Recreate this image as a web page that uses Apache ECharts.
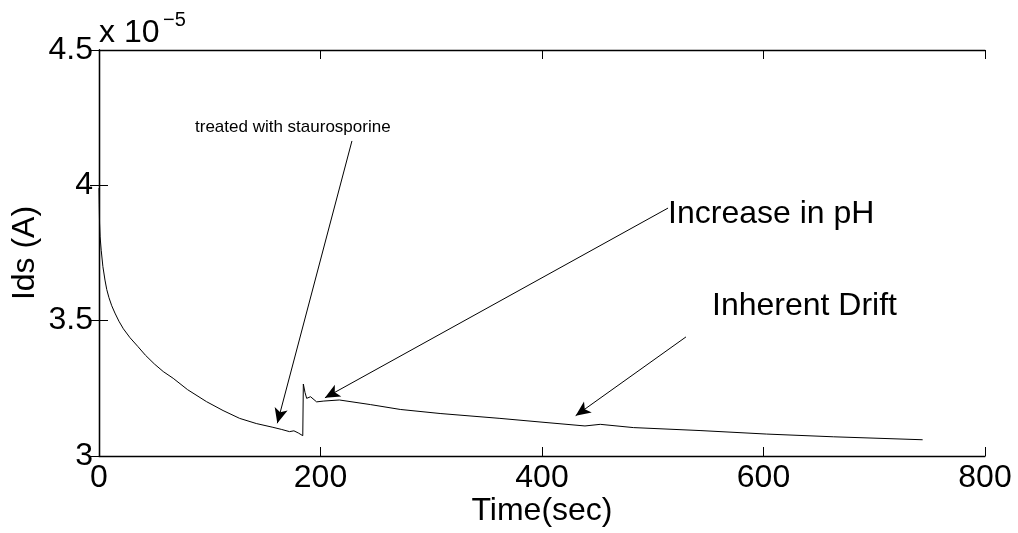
<!DOCTYPE html>
<html><head><meta charset="utf-8">
<script src="https://cdn.jsdelivr.net/npm/echarts@6/dist/echarts.min.js"></script>
<style>html,body{margin:0;padding:0;background:#fff}#c{width:1018px;height:533px}</style>
</head><body><div id="c"></div>
<script>
// Time (s) and Ids (in units of 1e-5 A)
const timeSec = [0, 0.2, 0.5, 1, 2, 3.5, 5.4, 7, 9, 11.5, 14.4, 18, 22, 28, 35, 42, 50, 58, 67, 80, 97, 112, 127, 142, 157, 165, 172, 176, 180, 184, 184.5, 186, 187.5, 191, 196.5, 203, 217, 245, 272, 308, 362, 400, 438.8, 439.5, 452.6, 482.5, 542.7, 602.9, 663, 743.7];
const idsE5   = [3.99, 3.93, 3.86, 3.81, 3.76, 3.70, 3.65, 3.615, 3.585, 3.555, 3.528, 3.498, 3.47, 3.437, 3.405, 3.372, 3.34, 3.312, 3.287, 3.245, 3.201, 3.168, 3.139, 3.12, 3.106, 3.098, 3.09, 3.093, 3.085, 3.075, 3.266, 3.235, 3.213, 3.219, 3.200, 3.203, 3.207, 3.19, 3.172, 3.157, 3.139, 3.125, 3.111, 3.118, 3.117, 3.105, 3.094, 3.081, 3.071, 3.060];
const xTicks = [0, 200, 400, 600, 800];
const yTicks = [3, 3.5, 4, 4.5];
const xTitle = 'Time(sec)';
const yTitle = 'Ids (A)';
const annotationText = ['treated with staurosporine', 'Increase in pH', 'Inherent Drift'];
const annotationAt = [[86.7, 4.215], [513.8, 3.895], [553.5, 3.555]];
const arrowFrom = [[228.4, 4.164], [513.8, 3.916], [530, 3.44]];
const arrowTo   = [[161, 3.121], [204, 3.215], [430.4, 3.149]];

const FONT = '"Liberation Sans", Arial, Helvetica, sans-serif';
const chart = echarts.init(document.getElementById('c'), null, {renderer: 'canvas'});
const axisLine = {show: true, lineStyle: {color: '#000', width: 1.3}};
const tick = {show: true, inside: true, length: 9, lineStyle: {color: '#000', width: 1}};
const xMin = xTicks[0], xMax = xTicks[xTicks.length - 1], xInt = xTicks[1] - xTicks[0];
const yMin = yTicks[0], yMax = yTicks[yTicks.length - 1], yInt = yTicks[1] - yTicks[0];

const option = {
  animation: false,
  backgroundColor: '#fff',
  grid: {left: 99, right: 33, top: 50, bottom: 77, containLabel: false, outerBoundsMode: 'none'},
  xAxis: [
    {type: 'value', min: xMin, max: xMax, interval: xInt, position: 'bottom',
     axisLine, axisTick: tick, splitLine: {show: false},
     axisLabel: {show: true, color: '#000', fontSize: 32, fontFamily: FONT, margin: 6},
     name: xTitle, nameLocation: 'middle', nameGap: 39, nameMoveOverlap: false,
     nameTextStyle: {color: '#000', fontSize: 32, fontFamily: FONT}},
    {type: 'value', min: xMin, max: xMax, interval: xInt, position: 'top',
     axisLine, axisTick: tick, splitLine: {show: false}, axisLabel: {show: false}}
  ],
  yAxis: [
    {type: 'value', min: yMin, max: yMax, interval: yInt, position: 'left',
     axisLine, axisTick: tick, splitLine: {show: false},
     axisLabel: {show: true, color: '#000', fontSize: 32, fontFamily: FONT, margin: 6},
     name: yTitle, nameLocation: 'middle', nameGap: 58, nameRotate: 90, nameMoveOverlap: false,
     nameTextStyle: {color: '#000', fontSize: 32, fontFamily: FONT}},
    {type: 'value', min: yMin, max: yMax, interval: yInt, position: 'right',
     axisLine, axisTick: tick, splitLine: {show: false}, axisLabel: {show: false}}
  ],
  series: [{
    type: 'line',
    data: timeSec.map((t, i) => [t, idsE5[i]]),
    showSymbol: false, symbol: 'none',
    lineStyle: {color: '#000', width: 1},
    emphasis: {disabled: true},
    silent: true,
    markLine: {
      silent: true,
      symbol: ['none', 'arrow'],
      symbolSize: [10, 15],
      label: {show: false},
      lineStyle: {color: '#000', width: 1, type: 'solid'},
      emphasis: {disabled: true},
      data: arrowFrom.map((f, i) => [{coord: f}, {coord: arrowTo[i]}])
    }
  }]
};
chart.setOption(option);

const gr = [];
annotationText.forEach((t, i) => {
  const p = chart.convertToPixel({xAxisIndex: 0, yAxisIndex: 0}, annotationAt[i]);
  gr.push({type: 'text', x: p[0], y: p[1], silent: true,
    style: {text: t, fill: '#000', fontSize: i === 0 ? 17 : 32, fontFamily: FONT, align: 'left', verticalAlign: 'middle'}});
});
const corner = chart.convertToPixel({xAxisIndex: 0, yAxisIndex: 0}, [xMin, yMax]);
gr.push({type: 'text', x: corner[0], y: corner[1] - 1, silent: true,
  style: {text: 'x 10', fill: '#000', fontSize: 32, fontFamily: FONT, align: 'left', verticalAlign: 'bottom'}});
gr.push({type: 'text', x: corner[0] + 64, y: corner[1] - 40, silent: true,
  style: {text: '\u22125', fill: '#000', fontSize: 20, fontFamily: FONT, align: 'left', verticalAlign: 'top'}});
chart.setOption({graphic: gr});
</script>
</body></html>
